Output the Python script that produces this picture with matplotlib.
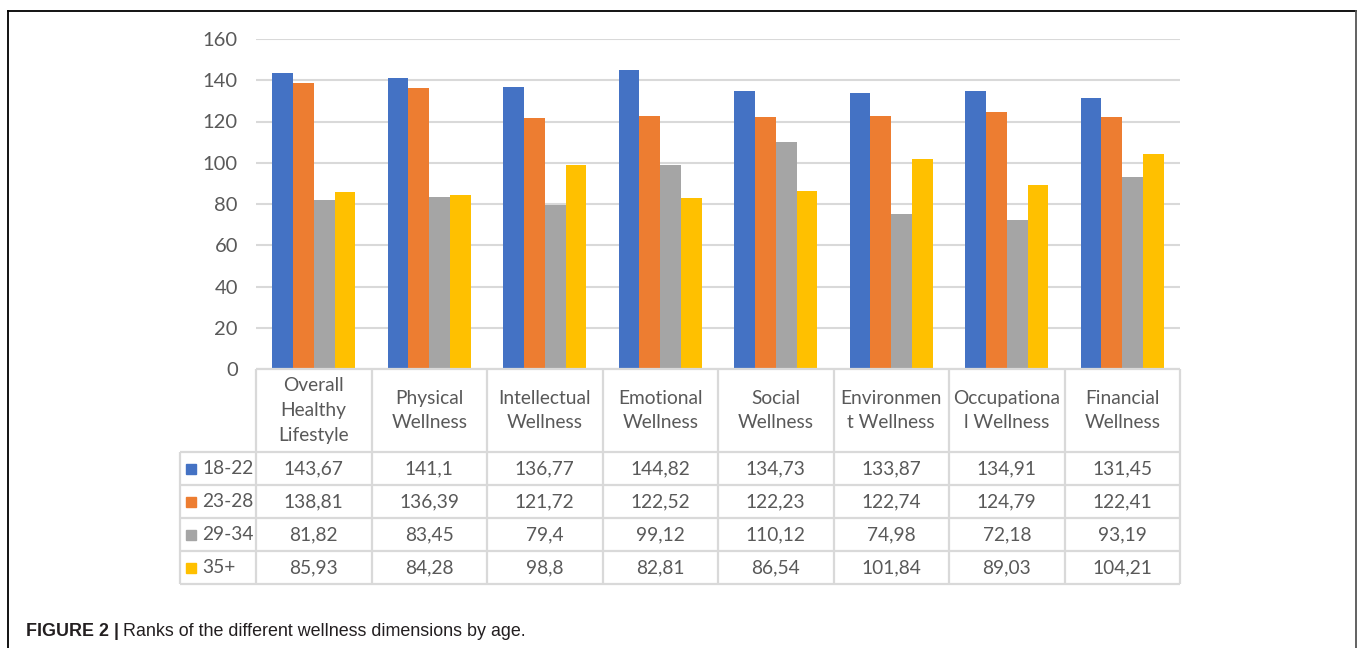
import matplotlib
matplotlib.use("Agg")
import matplotlib.pyplot as plt
from matplotlib.lines import Line2D
from matplotlib.patches import Rectangle

categories = ["Overall\nHealthy\nLifestyle", "Physical\nWellness", "Intellectual\nWellness",
              "Emotional\nWellness", "Social\nWellness", "Environmen\nt Wellness",
              "Occupationa\nl Wellness", "Financial\nWellness"]
series_names = ["18-22", "23-28", "29-34", "35+"]
s18_22 = [143.67, 141.1, 136.77, 144.82, 134.73, 133.87, 134.91, 131.45]
s23_28 = [138.81, 136.39, 121.72, 122.52, 122.23, 122.74, 124.79, 122.41]
s29_34 = [81.82, 83.45, 79.4, 99.12, 110.12, 74.98, 72.18, 93.19]
s35p = [85.93, 84.28, 98.8, 82.81, 86.54, 101.84, 89.03, 104.21]
series = [s18_22, s23_28, s29_34, s35p]
colors = ["#4472C4", "#ED7D31", "#A5A5A5", "#FFC000"]
yticks = [0, 20, 40, 60, 80, 100, 120, 140, 160]

W, H = 1360, 648
fig = plt.figure(figsize=(W / 100, H / 100), dpi=100)
FONT = "Lato"
FS = 13.8
TXT = "#595959"
GRID = "#D9D9D9"

def fx(px):
    return px / W

def fy(py):
    return 1 - py / H

# main bar axes
x0, x1, ytop, ybot = 256, 1180, 39, 369
ax = fig.add_axes([fx(x0), fy(ybot), fx(x1) - fx(x0), fy(ytop) - fy(ybot)])
n = len(categories)
bw = 0.18
for k, (vals, c) in enumerate(zip(series, colors)):
    xs = [i + 0.5 + (k - 1.5) * bw for i in range(n)]
    ax.bar(xs, vals, width=bw, color=c, zorder=3)
ax.set_xlim(0, n)
ax.set_ylim(0, 160)
ax.set_yticks(yticks)
ax.set_yticklabels([str(t) for t in yticks], fontsize=14.5, color=TXT, family=FONT)
ax.tick_params(axis="y", length=0, pad=13)
ax.set_xticks([])
ax.grid(axis="y", color=GRID, linewidth=1.5, zorder=0)
for s in ax.spines.values():
    s.set_visible(False)

# table axes
tleft, tbot = 180, 584
cw = (x1 - x0) / n
lx = -(x0 - tleft) / cw  # legend column left in category units
tax = fig.add_axes([fx(tleft), fy(tbot), fx(x1) - fx(tleft), fy(ybot) - fy(tbot)])
tax.set_xlim(lx, n)
tax.set_ylim(tbot, ybot)  # pixel rows, inverted
tax.axis("off")

row_edges = [369, 452, 485, 518, 551, 584]
lw = 1.6
tax.plot([0, n], [row_edges[0]] * 2, color=GRID, lw=lw, solid_capstyle="butt", clip_on=False)
for r in row_edges[1:]:
    tax.plot([lx, n], [r, r], color=GRID, lw=lw, solid_capstyle="butt", clip_on=False)
for i in range(n + 1):
    tax.plot([i, i], [row_edges[0], row_edges[-1]], color=GRID, lw=lw, solid_capstyle="butt", clip_on=False)
tax.plot([lx, lx], [row_edges[1], row_edges[-1]], color=GRID, lw=lw, solid_capstyle="butt", clip_on=False)

# header text
hc = (row_edges[0] + row_edges[1]) / 2
for i, cat in enumerate(categories):
    tax.text(i + 0.5, hc, cat, ha="center", va="center", fontsize=FS, color=TXT,
             family=FONT, linespacing=1.55)

def fmt(v):
    s = ("%.2f" % v).rstrip("0").rstrip(".")
    return s.replace(".", ",")

key = 10 / cw
for k, (name, vals, c) in enumerate(zip(series_names, series, colors)):
    yc = (row_edges[k + 1] + row_edges[k + 2]) / 2
    tax.add_patch(Rectangle((lx + 6 / cw, yc - 5), key, 10, color=c, clip_on=False))
    tax.text(lx + 22 / cw, yc, name, ha="left", va="center", fontsize=FS, color=TXT, family=FONT)
    for i, v in enumerate(vals):
        tax.text(i + 0.5, yc, fmt(v), ha="center", va="center", fontsize=FS, color=TXT, family=FONT)

# frame
fl = dict(color="black", lw=1.3, transform=fig.transFigure)
fig.add_artist(Line2D([fx(8), fx(1356)], [fy(11), fy(11)], **fl))
fig.add_artist(Line2D([fx(8), fx(8)], [fy(11), 0], **fl))
fig.add_artist(Line2D([fx(1356), fx(1356)], [fy(11), 0], color="#555555", lw=1.3,
                      transform=fig.transFigure))

# caption
capfont = ["Liberation Sans"]
capfs = 12.9
t1 = fig.text(fx(26), fy(636), "FIGURE 2 |", fontsize=capfs, weight="bold", family=capfont,
              ha="left", va="baseline", color="#231F20")
fig.canvas.draw()
bb = t1.get_window_extent()
fig.text((bb.x1 + 4) / W, fy(636), "Ranks of the different wellness dimensions by age.", fontsize=capfs,
         family=capfont, ha="left", va="baseline", color="#231F20")

fig.savefig("out.png", dpi=100)
